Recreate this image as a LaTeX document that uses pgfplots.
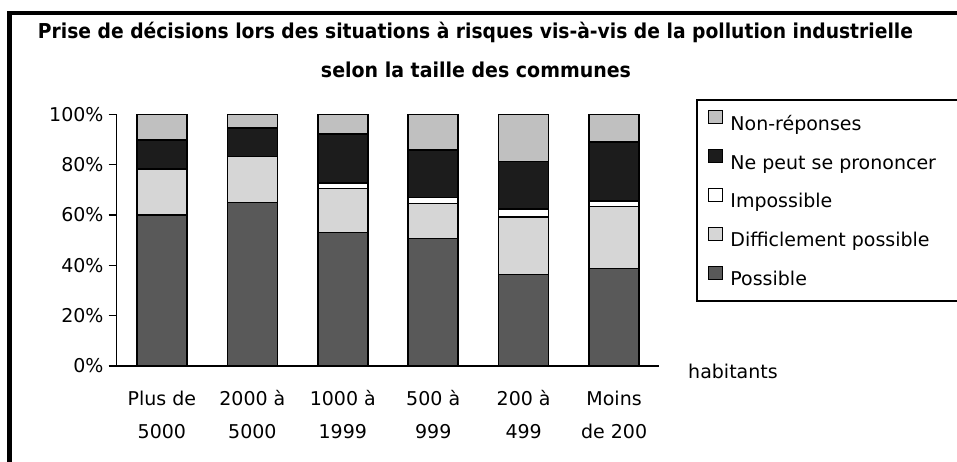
\documentclass[border=0pt]{standalone}
\usepackage{pgfplots}
\pgfplotsset{compat=1.18}
\usepackage{fontspec}
\setmainfont{DejaVu Sans}
\usepackage{graphicx}
\definecolor{cPos}{HTML}{595959}
\definecolor{cDiff}{HTML}{D6D6D6}
\definecolor{cImp}{HTML}{FFFFFF}
\definecolor{cNe}{HTML}{1C1C1C}
\definecolor{cNon}{HTML}{C0C0C0}
\begin{document}
\begin{tikzpicture}
\path[use as bounding box] (0,0) rectangle (957pt,461pt);
\draw[line width=4.5pt] (9.5pt,-10pt) -- (9.5pt,448.2pt) -- (970pt,448.2pt);
\node[anchor=base, inner sep=0pt] at (475.5pt,422.7pt) {\fontsize{20.5}{20.5}\selectfont\bfseries\resizebox{875pt}{\height}{Prise de décisions lors des situations à risques vis-à-vis de la pollution industrielle}};
\node[anchor=base, inner sep=0pt] at (476pt,383.7pt) {\fontsize{20.5}{20.5}\selectfont\bfseries\resizebox{310pt}{\height}{selon la taille des communes}};
\node[anchor=base west, inner sep=0pt] at (688pt,83pt) {\fontsize{19}{19}\selectfont habitants};
\draw[line width=1.3pt] (697pt,160pt) rectangle (975pt,361pt);
\begin{axis}[
  at={(116.7pt,95pt)}, anchor=south west,
  scale only axis, width=542.6pt, height=251.7pt,
  ybar stacked, bar width=50pt,
  xmin=-0.5, xmax=5.5, ymin=0, ymax=100,
  axis x line=bottom, axis y line=left,
  axis line style={-, line width=1.3pt},
  ytick={0,20,40,60,80,100},
  tick align=outside, major tick length=8pt,
  y tick style={line width=1.3pt, black},
  x tick style={draw=none},
  /pgf/number format/assume math mode=true,
  yticklabel={\pgfmathprintnumber{\tick}\%},
  yticklabel style={font=\fontsize{19}{19}\selectfont, inner sep=0pt, xshift=-5pt},
  xtick={0,1,2,3,4,5},
  xticklabels={{\strut Plus de\\\strut 5000},{\strut 2000 à\\\strut 5000},{\strut 1000 à\\\strut 1999},{\strut 500 à\\\strut 999},{\strut 200 à\\\strut 499},{\strut Moins\\\strut de 200}},
  xticklabel style={font=\fontsize{19}{33}\selectfont, align=center, inner sep=0pt, anchor=north, yshift=-8pt},
  reverse legend,
  legend style={at={(1.0695,1.0568)}, anchor=north west, draw=none, fill=none,
    font=\fontsize{19}{23}\selectfont, inner xsep=11pt, inner ysep=10pt, row sep=15.5pt,
    /tikz/every odd column/.style={column sep=5pt}},
  legend cell align=left,
  legend image code/.code={\draw[#1, line width=1.2pt] (0pt,-1pt) rectangle (14pt,12pt);},
]
\addplot[fill=cPos, draw=black, line width=1.6pt] coordinates {(0,60.0) (1,65.0) (2,53.1) (3,50.7) (4,36.4) (5,38.8)};
\addplot[fill=cDiff, draw=black, line width=1.6pt] coordinates {(0,18.3) (1,18.2) (2,17.4) (3,13.9) (4,22.9) (5,24.5)};
\addplot[fill=cImp, draw=black, line width=1.6pt] coordinates {(0,0) (1,0) (2,2.1) (3,2.4) (4,3.0) (5,2.3)};
\addplot[fill=cNe, draw=black, line width=1.6pt] coordinates {(0,11.5) (1,11.4) (2,19.6) (3,18.8) (4,18.9) (5,23.5)};
\addplot[fill=cNon, draw=black, line width=1.6pt] coordinates {(0,10.2) (1,5.4) (2,7.8) (3,14.2) (4,18.8) (5,10.9)};
\legend{\strut Possible,\strut Difficlement possible,\strut Impossible,\strut Ne peut se prononcer,\strut Non-réponses}
\end{axis}
\end{tikzpicture}
\end{document}
